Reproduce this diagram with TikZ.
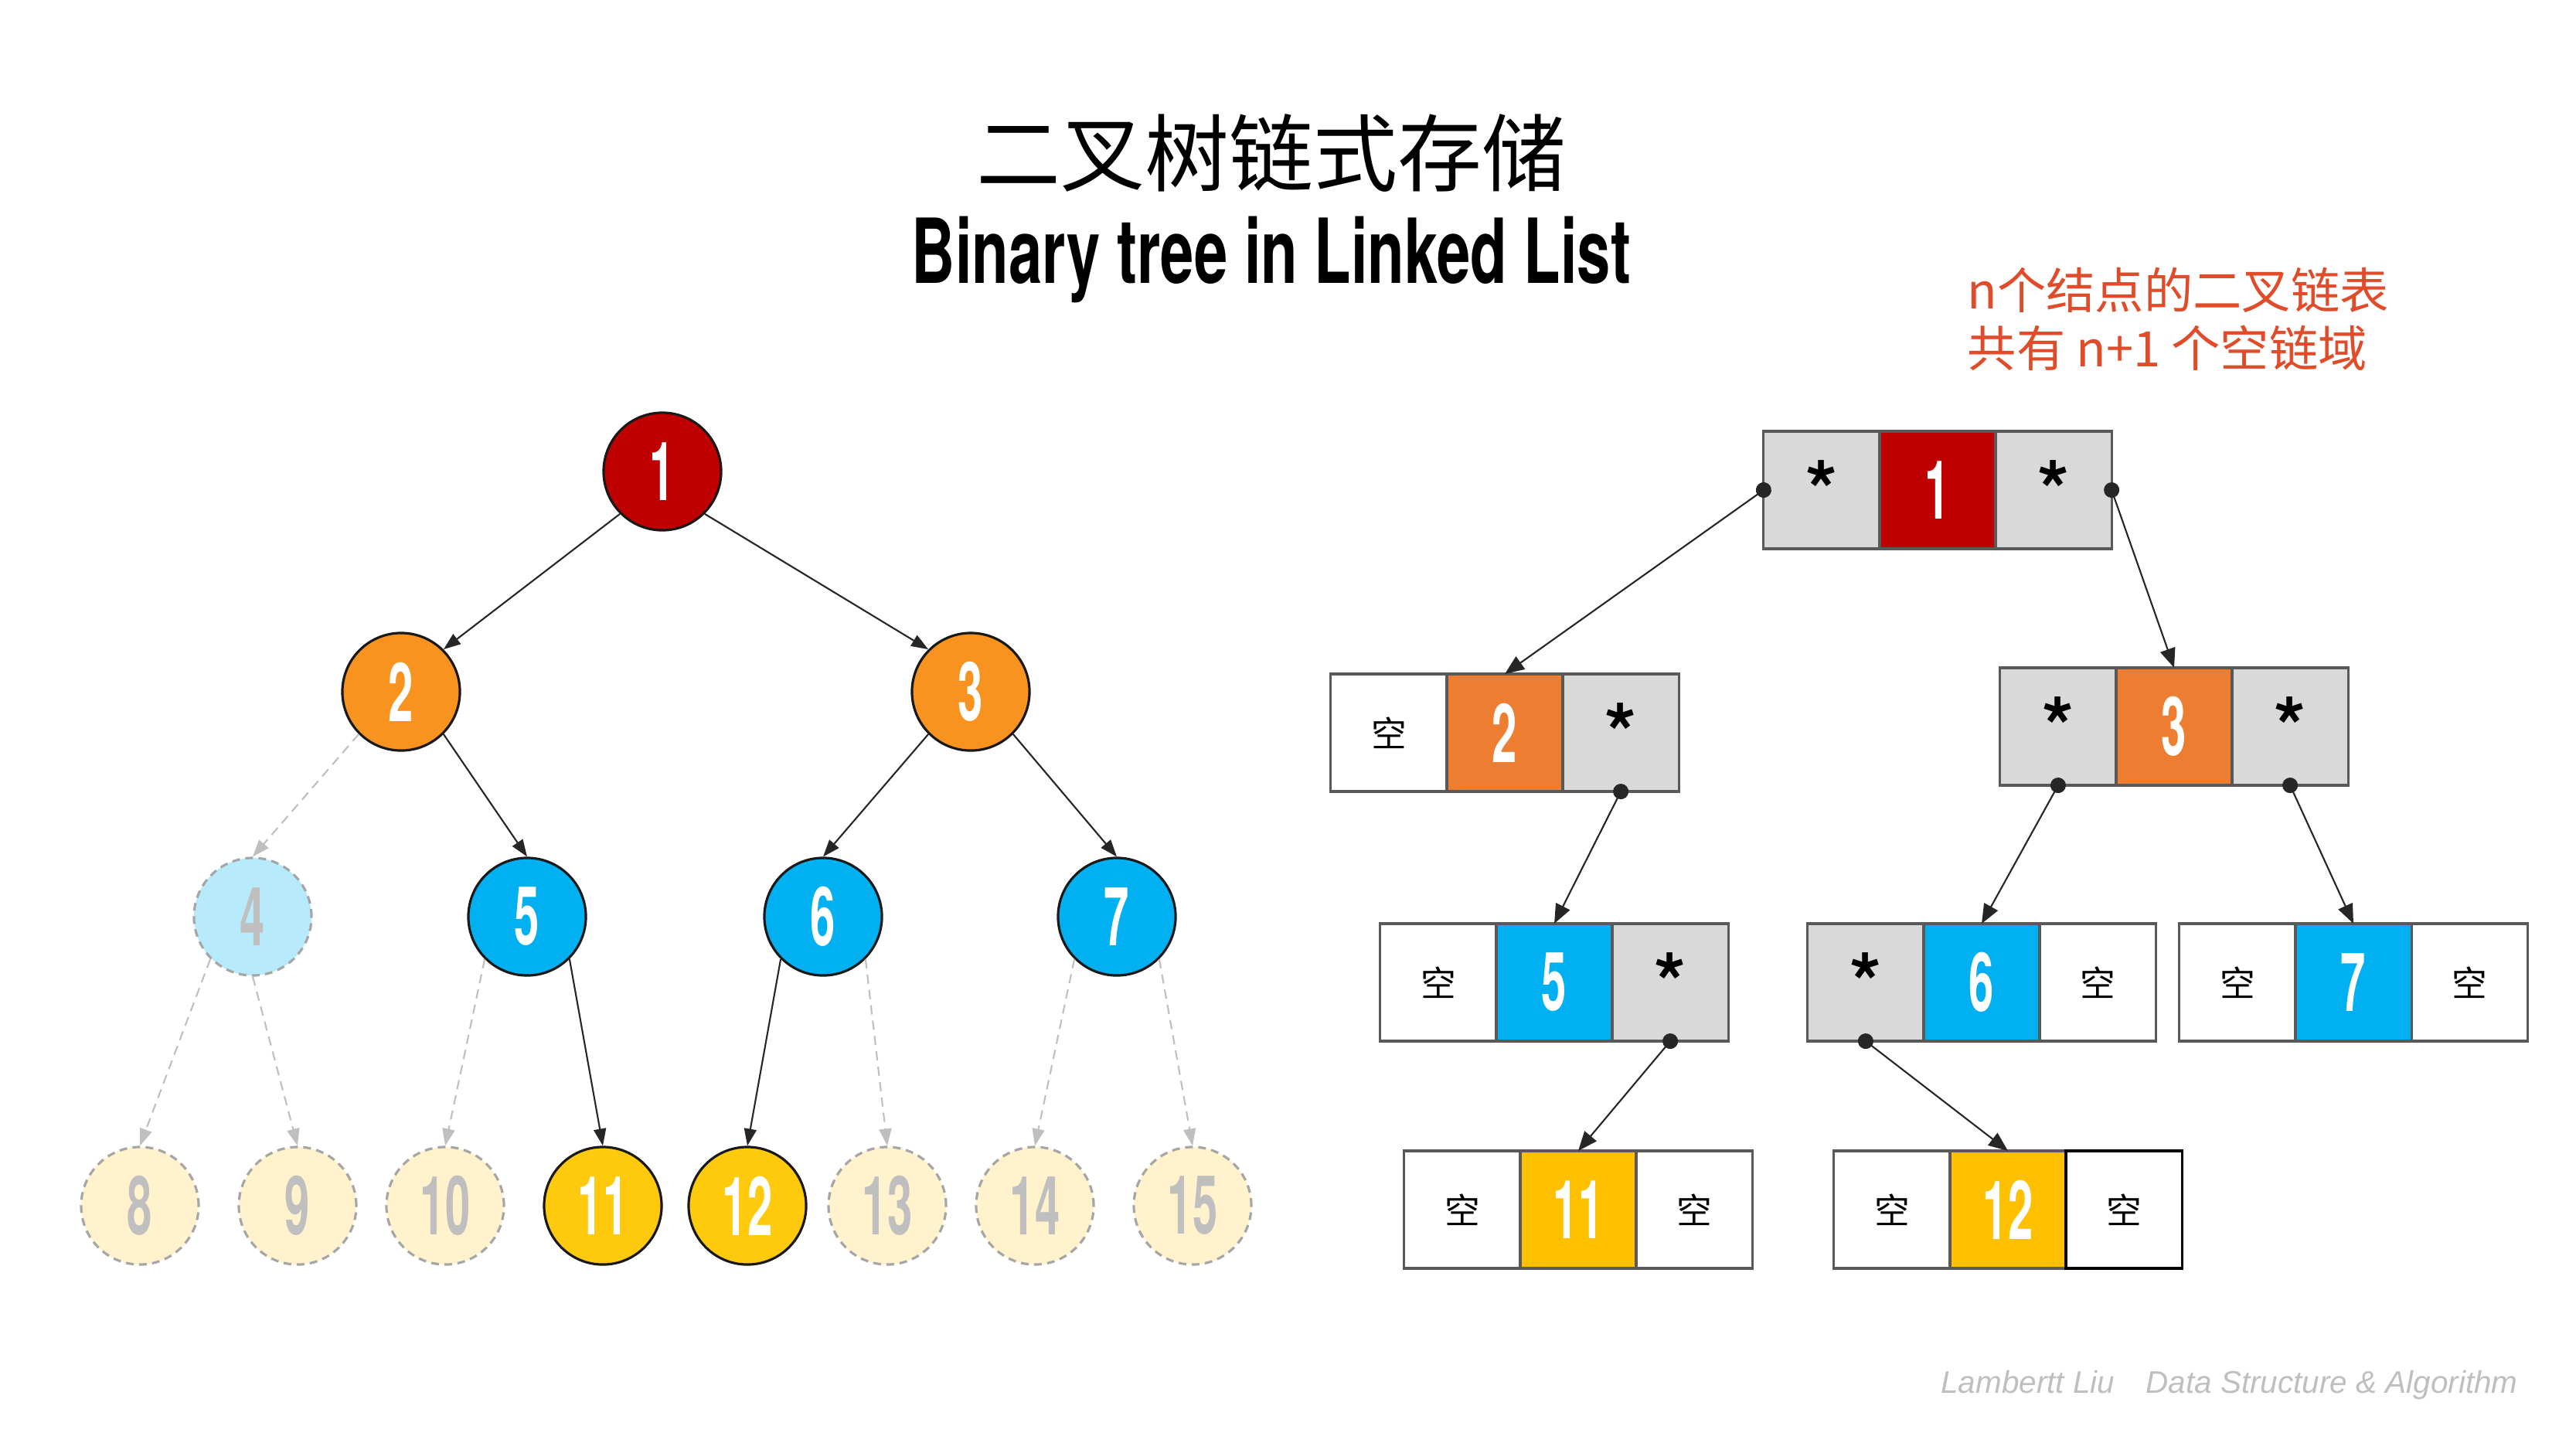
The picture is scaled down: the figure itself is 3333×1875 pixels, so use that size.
\documentclass[tikz,border=0pt]{standalone}
\usepackage{fontspec}
\setmainfont{TeX Gyre Heros}
\newfontfamily\cjk{Noto Sans CJK SC}
\newfontfamily\footfont{Liberation Sans}
\usetikzlibrary{arrows.meta,positioning}

\definecolor{keyred}{HTML}{C00000}
\definecolor{treeorange}{HTML}{F7931E}
\definecolor{listorange}{HTML}{ED7D31}
\definecolor{keyblue}{HTML}{00B0F0}
\definecolor{paleblue}{HTML}{B7EBFB}
\definecolor{keyyellow}{HTML}{FFC90E}
\definecolor{listyellow}{HTML}{FFC000}
\definecolor{paleyellow}{HTML}{FFF2CC}
\definecolor{ghostline}{HTML}{A6A6A6}
\definecolor{ghosttext}{HTML}{BFBFBF}
\definecolor{cellgrey}{HTML}{D9D9D9}
\definecolor{cellline}{HTML}{595959}
\definecolor{notered}{HTML}{E04B2A}
\definecolor{footgrey}{HTML}{BFBFBF}

\newcommand{\keynum}[1]{\scalebox{0.55}[1]{\bfseries #1}}

\begin{document}
\begin{tikzpicture}[x=0.01cm, y=-0.01cm,
    tnode/.style={circle, draw=black!90, line width=0.9pt, minimum size=1.52cm, inner sep=0pt, text=white, font=\fontsize{30}{30}\selectfont},
    ghost/.style={tnode, draw=ghostline, dash pattern=on 0.1cm off 0.07cm, text=ghosttext},
    arrow/.style={-{Triangle[length=0.22cm, width=0.16cm]}, line width=0.6pt, draw=black!85},
    ghostarrow/.style={arrow, draw=ghosttext, dash pattern=on 0.12cm off 0.08cm},
    cell/.style={rectangle, draw=cellline, line width=0.9pt, minimum width=1.5cm, minimum height=1.52cm, inner sep=0pt, outer sep=0pt, font=\fontsize{30}{30}\selectfont},
    star/.style={cell, fill=cellgrey, font=\bfseries\fontsize{30}{30}\selectfont},
    nil/.style={cell, fill=white, font=\cjk\fontsize{13}{13}\selectfont},
    ptr/.style={{Circle[length=0.2cm]}-{Triangle[length=0.25cm, width=0.2cm]}, shorten <=-0.1cm, line width=0.6pt, draw=black!85}
]
    \fill[white] (0,0) rectangle (3333,1875);
    \useasboundingbox (0,0) rectangle (3333,1875);

    % titles
    \node[font=\cjk\fontsize{31}{31}\selectfont] (title) at (1645,198) {二叉树链式存储};
    \node[font=\bfseries\fontsize{33}{33}\selectfont] (subtitle) at (1645,336) {\scalebox{0.67}[1]{Binary tree in Linked List}};
    \node[anchor=north west, inner sep=0pt, align=left, text=notered, font=\cjk\fontsize{18}{21.3}\selectfont] (note) at (2545,345) {n个结点的二叉链表\\共有 n+1 个空链域};

    % tree
    \node[tnode, fill=keyred] (n1) at (857,610) {\keynum{1}};
    \node[tnode, fill=treeorange] (n2) at (519,895) {\keynum{2}};
    \node[tnode, fill=treeorange] (n3) at (1256,895) {\keynum{3}};
    \node[ghost, fill=paleblue] (n4) at (327,1186) {\keynum{4}};
    \node[tnode, fill=keyblue] (n5) at (682,1186) {\keynum{5}};
    \node[tnode, fill=keyblue] (n6) at (1065,1186) {\keynum{6}};
    \node[tnode, fill=keyblue] (n7) at (1445,1186) {\keynum{7}};
    \node[ghost, fill=paleyellow] (n8) at (181,1560) {\keynum{8}};
    \node[ghost, fill=paleyellow] (n9) at (385,1560) {\keynum{9}};
    \node[ghost, fill=paleyellow] (n10) at (576,1560) {\keynum{10}};
    \node[tnode, fill=keyyellow] (n11) at (780,1560) {\keynum{11}};
    \node[tnode, fill=keyyellow] (n12) at (967,1560) {\keynum{12}};
    \node[ghost, fill=paleyellow] (n13) at (1148,1560) {\keynum{13}};
    \node[ghost, fill=paleyellow] (n14) at (1339,1560) {\keynum{14}};
    \node[ghost, fill=paleyellow] (n15) at (1543,1560) {\keynum{15}};

    \draw[arrow] (n1.south west) -- (n2.north east);
    \draw[arrow] (n1.south east) -- (n3.north west);
    \draw[ghostarrow] (n2.south west) -- (n4.north);
    \draw[arrow] (n2.south east) -- (n5.north);
    \draw[arrow] (n3.south west) -- (n6.north);
    \draw[arrow] (n3.south east) -- (n7.north);
    \draw[ghostarrow] (n4.south west) -- (n8.north);
    \draw[ghostarrow] (n4.south) -- (n9.north);
    \draw[ghostarrow] (n5.south west) -- (n10.north);
    \draw[arrow] (n5.south east) -- (n11.north);
    \draw[arrow] (n6.south west) -- (n12.north);
    \draw[ghostarrow] (n6.south east) -- (n13.north);
    \draw[ghostarrow] (n7.south west) -- (n14.north);
    \draw[ghostarrow] (n7.south east) -- (n15.north);

    % linked list
    \node[cell, fill=keyred, text=white] (r1) at (2507,634) {\keynum{1}};
    \node[star, left=0pt of r1] (r1l) {*};
    \node[star, right=0pt of r1] (r1r) {*};

    \node[cell, fill=listorange, text=white] (r2) at (1947,948) {\keynum{2}};
    \node[nil, left=0pt of r2] (r2l) {空};
    \node[star, right=0pt of r2] (r2r) {*};

    \node[cell, fill=listorange, text=white] (r3) at (2813,940) {\keynum{3}};
    \node[star, left=0pt of r3] (r3l) {*};
    \node[star, right=0pt of r3] (r3r) {*};

    \node[cell, fill=keyblue, text=white] (r5) at (2011,1271) {\keynum{5}};
    \node[nil, left=0pt of r5] (r5l) {空};
    \node[star, right=0pt of r5] (r5r) {*};

    \node[cell, fill=keyblue, text=white] (r6) at (2564,1271) {\keynum{6}};
    \node[star, left=0pt of r6] (r6l) {*};
    \node[nil, right=0pt of r6] (r6r) {空};

    \node[cell, fill=keyblue, text=white] (r7) at (3045,1271) {\keynum{7}};
    \node[nil, left=0pt of r7] (r7l) {空};
    \node[nil, right=0pt of r7] (r7r) {空};

    \node[cell, fill=listyellow, text=white] (r11) at (2042,1565) {\keynum{11}};
    \node[nil, left=0pt of r11] (r11l) {空};
    \node[nil, right=0pt of r11] (r11r) {空};

    \node[cell, fill=listyellow, text=white] (r12) at (2598,1565) {\keynum{12}};
    \node[nil, left=0pt of r12] (r12l) {空};
    \node[nil, draw=black, right=0pt of r12] (r12r) {空};

    \draw[ptr] (r1l.west) -- (r2.north);
    \draw[ptr] (r1r.east) -- (r3.north);
    \draw[ptr] (r2r.south) -- (r5.north);
    \draw[ptr] (r3l.south) -- (r6.north);
    \draw[ptr] (r3r.south) -- (r7.north);
    \draw[ptr] (r5r.south) -- (r11.north);
    \draw[ptr] (r6l.south) -- (r12.north);

    \node[anchor=east, text=footgrey, font=\footfont\itshape\fontsize{11.5}{11.5}\selectfont] (credit) at (3270,1792) {Lambertt Liu\quad Data Structure \& Algorithm};
\end{tikzpicture}
\end{document}
